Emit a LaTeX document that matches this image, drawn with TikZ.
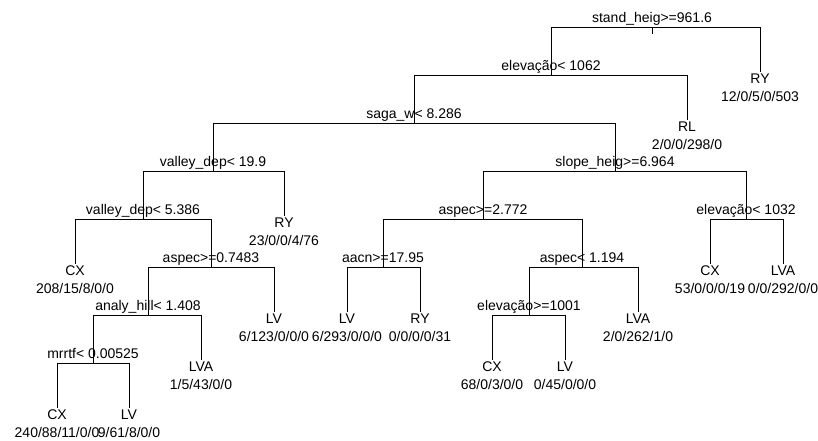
\documentclass[tikz,border=0pt]{standalone}
\usepackage{fontspec}
\setmainfont{Liberation Sans}
\begin{document}
\begin{tikzpicture}[x=1pt, y=-1pt, line width=0.8pt,
        every node/.style={font=\fontsize{14}{18}\selectfont},
        cond/.style={anchor=base, inner sep=0pt, yshift=4.5pt},
        term/.style={anchor=north, align=center, inner sep=1pt}]
    \useasboundingbox (0,0) rectangle (818,441);
    % split points
    \coordinate (s1) at (652,27);
    \coordinate (s2) at (551,75);
    \coordinate (s3) at (414,123);
    \coordinate (s4) at (213,171);
    \coordinate (s5) at (143,219);
    \coordinate (s6) at (211,267);
    \coordinate (s7) at (148,315);
    \coordinate (s8) at (93,363);
    \coordinate (s9) at (615,171);
    \coordinate (s10) at (483,219);
    \coordinate (s11) at (383,267);
    \coordinate (s12) at (582,267);
    \coordinate (s13) at (529,315);
    \coordinate (s14) at (746,219);
    % leaves
    \node[term] (l1) at (760,72) {RY\\12/0/5/0/503};
    \node[term] (l2) at (687,120) {RL\\2/0/0/298/0};
    \node[term] (l3) at (284,216) {RY\\23/0/0/4/76};
    \node[term] (l4) at (75,264) {CX\\208/15/8/0/0};
    \node[term] (l5) at (274,312) {LV\\6/123/0/0/0};
    \node[term] (l6) at (201,360) {LVA\\1/5/43/0/0};
    \node[term] (l7) at (57,408) {CX\\240/88/11/0/0};
    \node[term] (l8) at (129,408) {LV\\9/61/8/0/0};
    \node[term] (l9) at (347,312) {LV\\6/293/0/0/0};
    \node[term] (l10) at (420,312) {RY\\0/0/0/0/31};
    \node[term] (l11) at (492,360) {CX\\68/0/3/0/0};
    \node[term] (l12) at (565,360) {LV\\0/45/0/0/0};
    \node[term] (l13) at (638,312) {LVA\\2/0/262/1/0};
    \node[term] (l14) at (710,264) {CX\\53/0/0/0/19};
    \node[term] (l15) at (783,264) {LVA\\0/0/292/0/0};
    % branches
    \draw (s1) -- ++(0,7);
    \draw (s1) -| (s2);
    \draw (s1) -| (l1.north);
    \draw (s2) -| (s3);
    \draw (s2) -| (l2.north);
    \draw (s3) -| (s4);
    \draw (s3) -| (s9);
    \draw (s4) -| (s5);
    \draw (s4) -| (l3.north);
    \draw (s5) -| (l4.north);
    \draw (s5) -| (s6);
    \draw (s6) -| (s7);
    \draw (s6) -| (l5.north);
    \draw (s7) -| (s8);
    \draw (s7) -| (l6.north);
    \draw (s8) -| (l7.north);
    \draw (s8) -| (l8.north);
    \draw (s9) -| (s10);
    \draw (s9) -| (s14);
    \draw (s10) -| (s11);
    \draw (s10) -| (s12);
    \draw (s11) -| (l9.north);
    \draw (s11) -| (l10.north);
    \draw (s12) -| (s13);
    \draw (s12) -| (l13.north);
    \draw (s13) -| (l11.north);
    \draw (s13) -| (l12.north);
    \draw (s14) -| (l14.north);
    \draw (s14) -| (l15.north);
    % split labels
    \node[cond] (t1) at (s1) {stand\_heig>=961.6};
    \node[cond] (t2) at (s2) {elevação< 1062};
    \node[cond] (t3) at (s3) {saga\_w< 8.286};
    \node[cond] (t4) at (s4) {valley\_dep< 19.9};
    \node[cond] (t5) at (s5) {valley\_dep< 5.386};
    \node[cond] (t6) at (s6) {aspec>=0.7483};
    \node[cond] (t7) at (s7) {analy\_hill< 1.408};
    \node[cond] (t8) at (s8) {mrrtf< 0.00525};
    \node[cond] (t9) at (s9) {slope\_heig>=6.964};
    \node[cond] (t10) at (s10) {aspec>=2.772};
    \node[cond] (t11) at (s11) {aacn>=17.95};
    \node[cond] (t12) at (s12) {aspec< 1.194};
    \node[cond] (t13) at (s13) {elevação>=1001};
    \node[cond] (t14) at (s14) {elevação< 1032};
\end{tikzpicture}
\end{document}
